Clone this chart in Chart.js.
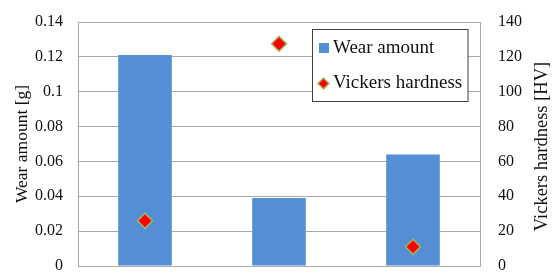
<!DOCTYPE html>
<html>
<head>
<meta charset="utf-8">
<script src="https://cdn.jsdelivr.net/npm/chart.js@4"></script>
<style>
html,body{margin:0;padding:0;background:#fff;}
#wrap{width:553px;height:275px;position:relative;}
</style>
</head>
<body>
<div id="wrap"><canvas id="c" width="553" height="275"></canvas></div>
<script>
const categories = ['A', 'B', 'C'];
const wearAmount = [0.121, 0.039, 0.064];
const vickersHardness = [26, 127.5, 11];
const wearTicks = ['0', '0.02', '0.04', '0.06', '0.08', '0.1', '0.12', '0.14'];
const hardnessTicks = ['0', '20', '40', '60', '80', '100', '120', '140'];
const seriesLabels = ['Wear amount', 'Vickers hardness'];
const axisTitles = ['Wear amount [g]', 'Vickers hardness [HV]'];

const FONT = "'Liberation Serif', 'Times New Roman', serif";
const GRID = '#a9a9a9';
const BAR = '#558ed5';
const DIAMOND_FILL = '#ff0000';
const DIAMOND_EDGE = '#9bbb59';

const extrasPlugin = {
  id: 'extras',
  afterDraw(chart) {
    const ctx = chart.ctx;
    const ca = chart.chartArea;
    // right axis title, reading bottom-to-top
    ctx.save();
    ctx.font = '18.5px ' + FONT;
    ctx.fillStyle = '#111';
    ctx.textAlign = 'center';
    ctx.textBaseline = 'middle';
    ctx.translate(542, 146.5);
    ctx.rotate(-Math.PI / 2);
    ctx.fillText(axisTitles[1], 0, 0);
    ctx.restore();

    // legend box
    const lx = ca.right - 167.5, ly = ca.top + 7.5, lw = 155.5, lh = 72;
    ctx.save();
    ctx.fillStyle = '#fff';
    ctx.fillRect(lx, ly, lw, lh);
    ctx.strokeStyle = '#404040';
    ctx.lineWidth = 1;
    ctx.strokeRect(lx, ly, lw, lh);
    ctx.font = '19px ' + FONT;
    ctx.textAlign = 'left';
    ctx.textBaseline = 'middle';
    const ds = chart.data.datasets;
    // item 1: bar square
    ctx.fillStyle = ds[0].backgroundColor;
    ctx.fillRect(lx + 6.5, ly + 13.5, 10, 10);
    ctx.fillStyle = '#111';
    ctx.fillText(ds[0].label, lx + 20.5, ly + 18.5);
    // item 2: diamond
    const cx = lx + 11, cy = ly + 54;
    ctx.beginPath();
    ctx.moveTo(cx - 5.5, cy);
    ctx.lineTo(cx, cy - 5.5);
    ctx.lineTo(cx + 5.5, cy);
    ctx.lineTo(cx, cy + 5.5);
    ctx.closePath();
    ctx.fillStyle = ds[1].backgroundColor;
    ctx.fill();
    ctx.strokeStyle = ds[1].borderColor;
    ctx.lineWidth = 1.5;
    ctx.stroke();
    ctx.fillStyle = '#111';
    ctx.fillText(ds[1].label, lx + 20.5, ly + 53.5);
    ctx.restore();
  }
};

new Chart(document.getElementById('c'), {
  data: {
    labels: categories,
    datasets: [
      {
        type: 'bar',
        label: seriesLabels[0],
        data: wearAmount,
        yAxisID: 'y',
        backgroundColor: BAR,
        borderWidth: 0,
        barPercentage: 0.4,
        categoryPercentage: 1.0,
        order: 1
      },
      {
        type: 'line',
        label: seriesLabels[1],
        data: vickersHardness,
        yAxisID: 'y1',
        showLine: false,
        pointStyle: 'rectRot',
        pointRadius: 7.5,
        pointBorderWidth: 1.5,
        backgroundColor: DIAMOND_FILL,
        borderColor: DIAMOND_EDGE,
        order: 0
      }
    ]
  },
  options: {
    responsive: false,
    animation: false,
    layout: { padding: { top: 22, bottom: 6, left: 0, right: 0 } },
    plugins: { legend: { display: false }, tooltip: { enabled: false } },
    scales: {
      x: {
        type: 'category',
        offset: true,
        ticks: { display: false },
        grid: { display: false, drawTicks: false },
        border: { display: true, color: GRID, width: 1 },
        afterFit(s) { s.height = 0; s.paddingLeft = 0; s.paddingRight = 0; }
      },
      y: {
        position: 'left',
        min: 0, max: 0.14,
        ticks: {
          stepSize: 0.02,
          padding: 15,
          color: '#111',
          font: { family: FONT, size: 16 },
          callback: (v, i) => wearTicks[i]
        },
        grid: { color: GRID, drawTicks: false, lineWidth: 1 },
        border: { display: true, color: GRID, width: 1 },
        title: {
          display: true,
          text: axisTitles[0],
          color: '#111',
          font: { family: FONT, size: 17.5 },
          padding: { top: 11.5, bottom: 0 }
        },
        afterFit(s) { s.width = 78; s.paddingTop = 0; s.paddingBottom = 0; }
      },
      y1: {
        position: 'right',
        min: 0, max: 140,
        ticks: {
          stepSize: 20,
          padding: 18,
          color: '#111',
          font: { family: FONT, size: 16 },
          callback: (v, i) => hardnessTicks[i]
        },
        grid: { display: false, drawTicks: false },
        border: { display: true, color: GRID, width: 1 },
        afterFit(s) { s.width = 73; s.paddingTop = 0; s.paddingBottom = 0; }
      }
    }
  },
  plugins: [extrasPlugin]
});
</script>
</body>
</html>
